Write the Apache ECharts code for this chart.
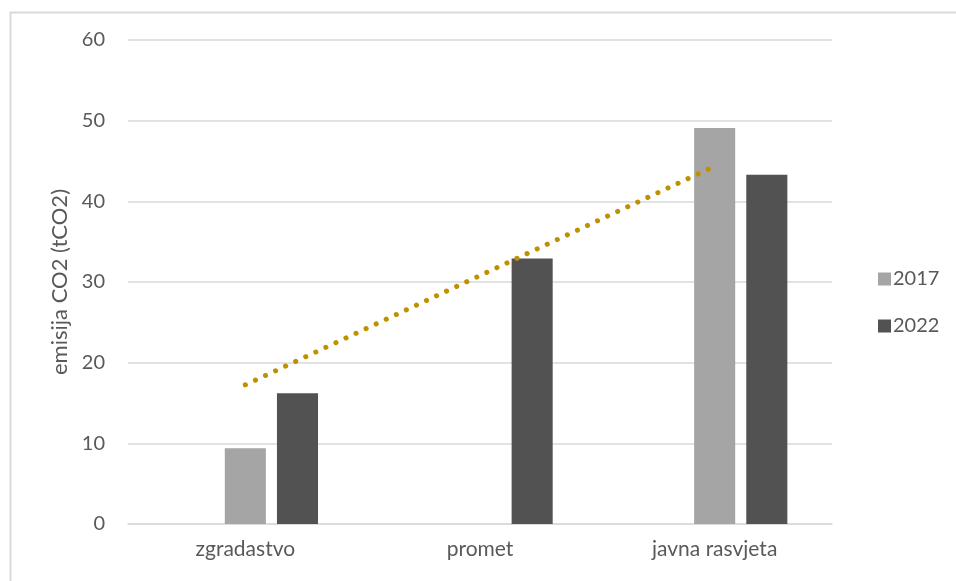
<!DOCTYPE html>
<html>
<head>
<meta charset="utf-8">
<script src="https://cdn.jsdelivr.net/npm/echarts@6/dist/echarts.min.js"></script>
<style>
  html, body { margin: 0; padding: 0; background: #fff; }
  #chart { width: 956px; height: 581px; }
</style>
</head>
<body>
<div id="chart"></div>
<script>
// Emisije CO2 po sektorima
const categories = ['zgradastvo', 'promet', 'javna rasvjeta'];
const values2017 = [9.4, null, 49.1];
const values2022 = [16.2, 32.9, 43.3];
const yTicks = { min: 0, max: 60, interval: 10 };

// Linearni trend za 2022 (najmanji kvadrati)
function linearTrend(vals) {
  const n = vals.length;
  const xs = vals.map((_, i) => i + 1);
  const mx = xs.reduce((a, b) => a + b, 0) / n;
  const my = vals.reduce((a, b) => a + b, 0) / n;
  let num = 0, den = 0;
  for (let i = 0; i < n; i++) {
    num += (xs[i] - mx) * (vals[i] - my);
    den += (xs[i] - mx) * (xs[i] - mx);
  }
  const k = num / den;
  return xs.map(x => +(my + k * (x - mx)).toFixed(3));
}
const trend2022 = linearTrend(values2022);

const font = 'Lato, "Open Sans", sans-serif';
const textColor = '#595959';

const chart = echarts.init(document.getElementById('chart'), null, { renderer: 'canvas' });
chart.setOption({
  animation: false,
  backgroundColor: '#ffffff',
  graphic: [{
    type: 'rect',
    left: 8, top: 10,
    shape: { width: 960, height: 580 },
    style: { fill: 'none', stroke: '#d9d9d9', lineWidth: 2 },
    silent: true
  }],
  grid: { left: 128, right: 124, top: 40, bottom: 57, containLabel: false },
  legend: {
    orient: 'vertical',
    left: 873, top: 264,
    itemWidth: 13, itemHeight: 13,
    itemGap: 27,
    icon: 'rect',
    data: ['2017', '2022'],
    textStyle: { color: textColor, fontSize: 20, fontFamily: font, padding: [0, 0, 0, -3] }
  },
  xAxis: {
    type: 'category',
    data: categories,
    axisLine: { show: true, lineStyle: { color: '#d9d9d9', width: 1.5 } },
    axisTick: { show: false },
    axisLabel: { color: textColor, fontSize: 21, fontFamily: font, margin: 15 }
  },
  yAxis: {
    type: 'value',
    min: yTicks.min, max: yTicks.max, interval: yTicks.interval,
    name: 'emisija CO2 (tCO2)',
    nameLocation: 'middle',
    nameGap: 57,
    nameTextStyle: { color: textColor, fontSize: 22, fontFamily: font },
    axisLine: { show: false },
    axisTick: { show: false },
    splitLine: { lineStyle: { color: '#d9d9d9', width: 1.5 } },
    axisLabel: { color: textColor, fontSize: 20, fontFamily: font, margin: 23 }
  },
  series: [
    {
      // prazan niz koji zauzima prvo mjesto u grupi stupaca
      name: '',
      type: 'bar',
      data: categories.map(() => null),
      barWidth: '17.5%',
      barGap: '27%',
      silent: true
    },
    {
      name: '2017',
      type: 'bar',
      data: values2017,
      barWidth: '17.5%',
      barGap: '27%',
      itemStyle: { color: '#a5a5a5' }
    },
    {
      name: '2022',
      type: 'bar',
      data: values2022,
      barWidth: '17.5%',
      barGap: '27%',
      itemStyle: { color: '#525252' }
    },
    {
      name: 'Linearni (2022)',
      type: 'line',
      data: trend2022,
      symbol: 'none',
      z: 5,
      lineStyle: {
        color: '#bf9000',
        width: 5,
        type: [0.1, 11],
        cap: 'round'
      }
    }
  ]
});
</script>
</body>
</html>
